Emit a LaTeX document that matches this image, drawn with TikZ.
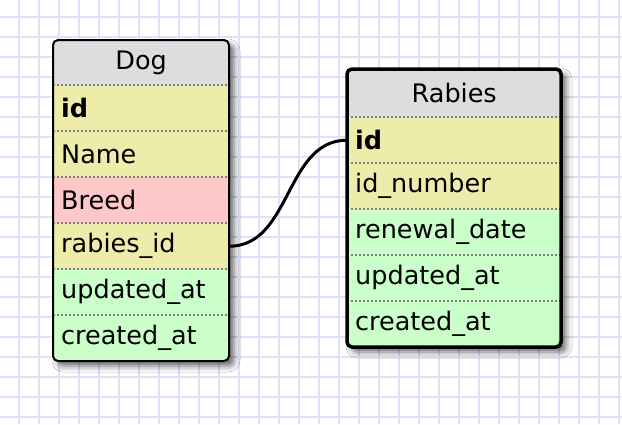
\documentclass[tikz,border=0pt]{standalone}
\usepackage{fontspec}
\setmainfont{DejaVu Sans}
\usetikzlibrary{shadows.blur}
\definecolor{gridlilac}{RGB}{224,224,248}
\definecolor{headgray}{RGB}{221,221,221}
\definecolor{keyyellow}{RGB}{238,236,170}
\definecolor{fieldpink}{RGB}{255,200,200}
\definecolor{stampgreen}{RGB}{202,255,202}
\tikzset{
    erhead/.style={anchor=north west, inner sep=0pt, minimum height=46pt, font=\fontsize{25.5}{30}\selectfont},
    erfield/.style={anchor=north west, inner xsep=8pt, inner ysep=0pt, minimum height=46pt, align=left, font=\fontsize{25.5}{30}\selectfont},
    ersep/.style={gray, line width=2pt, dash pattern=on 2pt off 2pt},
    ershadow/.style={fill=white, blur shadow={shadow xshift=5pt, shadow yshift=-5pt, shadow blur radius=6pt, shadow opacity=60}},
}

\begin{document}
\begin{tikzpicture}[x=1pt, y=-1pt]
    \useasboundingbox (0,0) rectangle (622,424);
    \fill[white] (0,0) rectangle (622,424);
    % grid paper
    \foreach \gx in {19,39,...,619} {
        \draw[gridlilac, line width=2.5pt] (\gx,0) -- (\gx,424);
    }
    \foreach \gy in {17,37,...,417} {
        \draw[gridlilac, line width=2.5pt] (0,\gy) -- (622,\gy);
    }

    % Dog table
    \fill[ershadow, rounded corners=5pt] (53,40) rectangle (229,361);
    \begin{scope}
        \clip[rounded corners=5pt] (53,40) rectangle (229,361);
        \node[erhead, fill=headgray, minimum width=176pt, minimum height=45pt] (dog) at (53,40) {Dog};
        \foreach \n/\t/\c [count=\i] in {dogid/\textbf{id}/keyyellow, dogname/Name/keyyellow, dogbreed/Breed/fieldpink, dograbiesid/rabies\_id/keyyellow, dogupdated/updated\_at/stampgreen, dogcreated/created\_at/stampgreen} {
            \node[erfield, fill=\c, text width=160pt] (\n) at (53,{39+\i*46}) {\t};
        }
    \end{scope}
    \foreach \n in {dog, dogid, dogname, dogbreed, dograbiesid, dogupdated} {
        \draw[ersep] (\n.south west) -- (\n.south east);
    }
    \draw[line width=2pt, rounded corners=5pt] (53,40) rectangle (229,361);

    % Rabies table
    \fill[ershadow, rounded corners=5pt] (347,69) rectangle (561,347);
    \begin{scope}
        \clip[rounded corners=5pt] (347,69) rectangle (561,347);
        \node[erhead, fill=headgray, minimum width=214pt, minimum height=48pt] (rabies) at (347,69) {Rabies};
        \foreach \n/\t/\c [count=\i] in {rabiesid/\textbf{id}/keyyellow, rabiesnumber/id\_number/keyyellow, rabiesrenewal/renewal\_date/stampgreen, rabiesupdated/updated\_at/stampgreen, rabiescreated/created\_at/stampgreen} {
            \node[erfield, fill=\c, text width=198pt] (\n) at (347,{71+\i*46}) {\t};
        }
    \end{scope}
    \foreach \n in {rabies, rabiesid, rabiesnumber, rabiesrenewal, rabiesupdated} {
        \draw[ersep] (\n.south west) -- (\n.south east);
    }
    \draw[line width=3.5pt, rounded corners=5pt] (347,69) rectangle (561,347);

    % foreign key link
    \draw[line width=3pt] (dograbiesid.east) to[out=0, in=180] (rabiesid.west);
\end{tikzpicture}
\end{document}
